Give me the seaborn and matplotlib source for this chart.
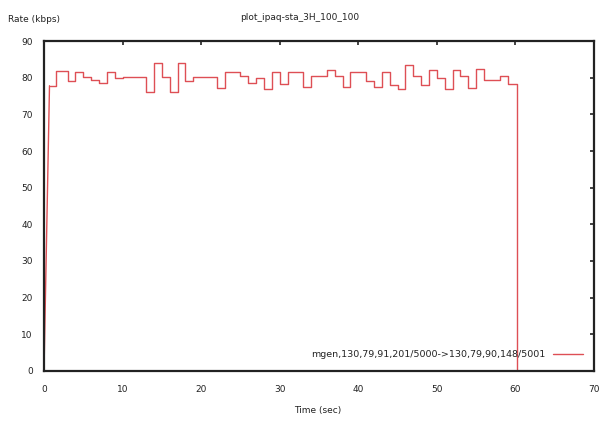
import matplotlib
matplotlib.use("Agg")
import matplotlib.pyplot as plt
import seaborn as sns
import pandas as pd

# step start times (sec) and rate values (kbps)
ramp_time = [0.0, 0.7]
ramp_rate = [0.0, 77.8]
step_time = [0.7, 1.5, 3, 4, 5, 6, 7, 8, 9, 10, 13, 14, 15, 16, 17, 18, 19, 22, 23,
             25, 26, 27, 28, 29, 30, 31, 33, 34, 36, 37, 38, 39, 41, 42, 43, 44, 45,
             46, 47, 48, 49, 50, 51, 52, 53, 54, 55, 56, 58, 59, 60.2, 60.2]
step_rate = [77.8, 81.8, 79.0, 81.5, 80.2, 79.3, 78.6, 81.5, 80.0, 80.3, 76.0, 84.0,
             80.3, 76.0, 84.0, 79.0, 80.3, 77.3, 81.5, 80.5, 78.6, 80.0, 77.0, 81.5,
             78.4, 81.5, 77.5, 80.5, 82.0, 80.5, 77.5, 81.5, 79.0, 77.5, 81.5, 78.0,
             77.0, 83.5, 80.5, 78.0, 82.0, 80.0, 76.8, 82.0, 80.5, 77.3, 82.5, 79.5,
             80.4, 78.4, 78.4, 0.0]
x_ticks = [0, 10, 20, 30, 40, 50, 60, 70]
y_ticks = [0, 10, 20, 30, 40, 50, 60, 70, 80, 90]
title = "plot_ipaq-sta_3H_100_100"
series_label = "mgen,130,79,91,201/5000->130,79,90,148/5001"

sns.set_style("white")
plt.rcParams["font.family"] = ["DejaVu Sans"]

fig = plt.figure(figsize=(6.01, 4.21), dpi=100)
ax = fig.add_axes([44 / 601, 1 - 371 / 421, 550 / 601, 330 / 421])

line_color = "#de4f55"
ramp = pd.DataFrame({"t": ramp_time, "r": ramp_rate})
steps = pd.DataFrame({"t": step_time, "r": step_rate})
sns.lineplot(data=ramp, x="t", y="r", ax=ax, color=line_color, lw=1.0,
             estimator=None, sort=False)
sns.lineplot(data=steps, x="t", y="r", ax=ax, color=line_color, lw=1.0,
             estimator=None, sort=False, drawstyle="steps-post")

ax.set_xlim(0, 70)
ax.set_ylim(0, 90)
ax.set_xticks(x_ticks)
ax.set_yticks(y_ticks)
ax.tick_params(direction="in", length=3, width=1.2, top=True, right=True,
               labelsize=6.5, colors="#222222", pad=8)
ax.tick_params(axis="x", pad=10)
for s in ax.spines.values():
    s.set_color("#222222")
    s.set_linewidth(1.6)
ax.set_xlabel("")
ax.set_ylabel("")

fig.text(300 / 601, 1 - 17 / 421, title, ha="center", va="center",
         fontsize=6.5, color="#222222")
fig.text(8 / 601, 1 - 20 / 421, "Rate (kbps)", ha="left", va="center",
         fontsize=6.5, color="#222222")
fig.text(318 / 601, 1 - 410 / 421, "Time (sec)", ha="center", va="center",
         fontsize=6.5, color="#222222")

handle = plt.Line2D([], [], color=line_color, lw=1.0)
leg = ax.legend([handle], [series_label], loc="lower right", frameon=False,
                markerfirst=False, fontsize=6.8, handlelength=3.2,
                bbox_to_anchor=(0.995, 0.01), handletextpad=0.8)
for t in leg.get_texts():
    t.set_color("#222222")

fig.savefig("out.png", dpi=100, facecolor="white")
